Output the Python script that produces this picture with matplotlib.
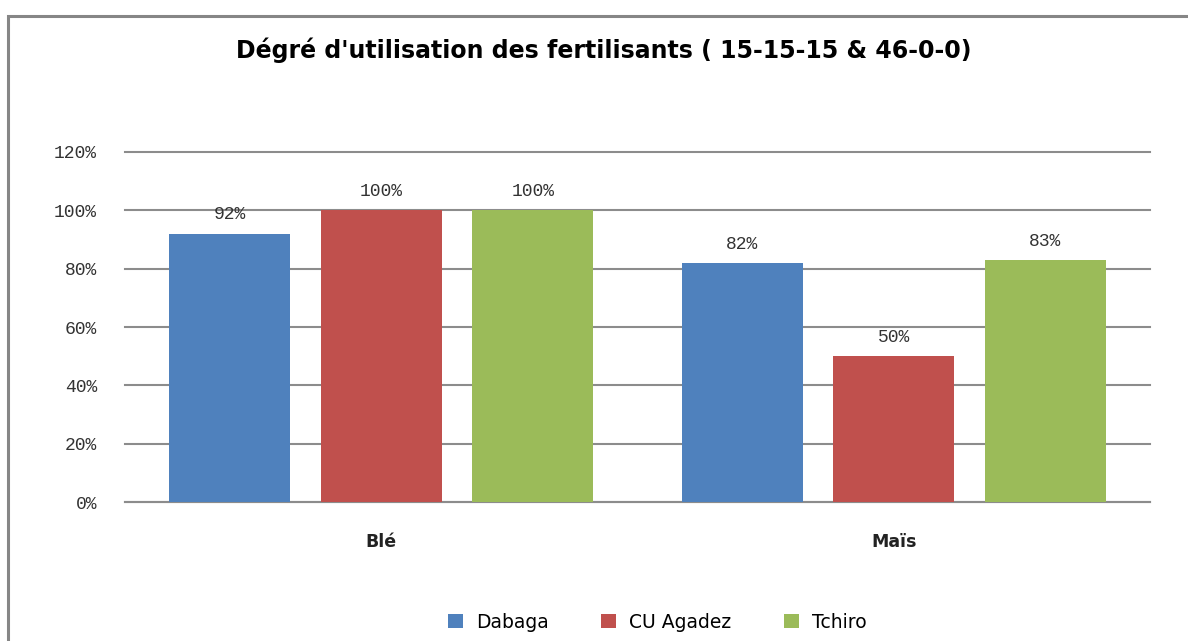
import matplotlib
matplotlib.use('Agg')
from matplotlib import pyplot as plt
from matplotlib.patches import Rectangle
import numpy as np

# Data
categories = ['Blé', 'Maïs']
series_names = ['Dabaga', 'CU Agadez', 'Tchiro']
dabaga = [92, 82]
cu_agadez = [100, 50]
tchiro = [100, 83]
yticks = [0, 20, 40, 60, 80, 100, 120]

colors = ['#4F81BD', '#C0504D', '#9BBB59']

fig = plt.figure(figsize=(11.88, 6.41), dpi=100)
ax = fig.add_axes([0.1052, 0.2168, 0.8628, 0.5461])

# Outer chart frame (cut off on right and bottom, as in the reference)
fig.patches.append(Rectangle((8 / 1188, -0.05), 1.2, 1 - 16 / 641 + 0.05,
                             transform=fig.transFigure, fill=False,
                             edgecolor='#868686', linewidth=2.2, zorder=0))

x = np.arange(len(categories))
width = 0.236
offsets = [-0.296, 0, 0.296]
for vals, name, col, off in zip([dabaga, cu_agadez, tchiro], series_names, colors, offsets):
    bars = ax.bar(x + off, vals, width, color=col, label=name, zorder=3)
    for b, v in zip(bars, vals):
        ax.text(b.get_x() + b.get_width() / 2, v + 3.5, f'{v}%', ha='center', va='bottom',
                fontsize=13, family='Liberation Mono', color='#333333')

ax.set_xlim(-0.5, 1.5)
ax.set_ylim(0, 120)
ax.set_yticks(yticks)
ax.set_yticklabels([f'{t}%' for t in yticks], fontsize=13, family='Liberation Mono',
                   color='#333333')
ax.set_xticks(x)
ax.set_xticklabels(categories, fontsize=12.5, family='DejaVu Sans', weight='semibold',
                   color='#222222')
ax.tick_params(axis='y', length=0, pad=20)
ax.tick_params(axis='x', length=0, pad=22)
ax.yaxis.grid(True, color='#8c8c8c', linewidth=1.5, zorder=0)
for gl in ax.yaxis.get_gridlines():
    gl.set_clip_on(False)
for s in ['top', 'right', 'left']:
    ax.spines[s].set_visible(False)
ax.spines['bottom'].set_color('#8c8c8c')
ax.spines['bottom'].set_linewidth(1.5)

fig.text(0.508, 1 - 50 / 641, "Dégré d'utilisation des fertilisants ( 15-15-15 & 46-0-0)",
         ha='center', va='center', fontsize=17, family='DejaVu Sans', weight='bold')

leg = fig.legend(loc='center', bbox_to_anchor=(0.553, 1 - 622 / 641), ncol=3, frameon=False,
                 prop={'family': 'DejaVu Sans', 'size': 13.5}, handlelength=0.8,
                 handleheight=0.8, columnspacing=2.8, handletextpad=0.7)

fig.savefig('out.png', dpi=100)
